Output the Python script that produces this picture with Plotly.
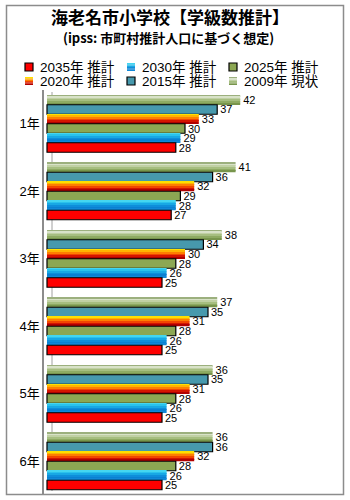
import plotly.graph_objects as go

# ---- data -------------------------------------------------------------
grades = ["1年", "2年", "3年", "4年", "5年", "6年"]

v2009 = [42, 41, 38, 37, 36, 36]
v2015 = [37, 36, 34, 35, 35, 36]
v2020 = [33, 32, 30, 31, 31, 32]
v2025 = [30, 29, 28, 28, 28, 28]
v2030 = [29, 28, 26, 26, 26, 26]
v2035 = [28, 27, 25, 25, 25, 25]

names = {
    "2009": "2009年 現状",
    "2015": "2015年 推計",
    "2020": "2020年 推計",
    "2025": "2025年 推計",
    "2030": "2030年 推計",
    "2035": "2035年 推計",
}

# ---- styles (bands listed top -> bottom; single colour = outlined bar) --
styles = {
    "2009": {"bands": ["#9CB07E", "#D8E2C8", "#C0D0A4", "#A6BE80", "#8EAA62", "#78954C"], "outline": False},
    "2015": {"bands": ["#4799AD"], "outline": True},
    "2020": {"bands": ["#FFE000", "#FFB400", "#FF7E00", "#F24600", "#D41400", "#B00000"], "outline": False},
    "2025": {"bands": ["#8CA753"], "outline": True},
    "2030": {"bands": ["#44D6F0", "#2AC2EC", "#18A8E4", "#0E8EDA", "#0A80D2", "#1088D8"], "outline": False},
    "2035": {"bands": ["#FF0000"], "outline": True},
}

# slot order inside each group, top to bottom
slot_order = ["2009", "2015", "2020", "2025", "2030", "2035"]
values = {"2009": v2009, "2015": v2015, "2020": v2020,
          "2025": v2025, "2030": v2030, "2035": v2035}

# ---- geometry ------------------------------------------------------------
W, H = 350, 500
L, T = 44, 90            # plot area left / top (px)
PW, PH = 279, 405        # plot area width / height (px)
PX_PER_UNIT = 4.6
X0 = -3 / PX_PER_UNIT
X1 = X0 + PW / PX_PER_UNIT

GROUP = 0.845
SLOT = GROUP / 6

FONT = "Liberation Sans, Arial, Noto Sans CJK JP, sans-serif"


def px_x(p):
    return (p - L) / PW


def px_y(p):
    return (T + PH - p) / PH


fig = go.Figure()

for k, key in enumerate(slot_order):
    st = styles[key]
    bands = st["bands"]
    n = len(bands)
    top = -GROUP / 2 + k * SLOT
    for j, col in enumerate(bands):
        fig.add_trace(go.Bar(
            y=grades, x=values[key], orientation="h",
            width=SLOT / n, offset=top + j * SLOT / n,
            marker=dict(color=col,
                        line=dict(color="black", width=1.2 if st["outline"] else 0)),
            showlegend=False, hoverinfo="skip", name=names[key],
        ))

# value labels at the end of each bar
for k, key in enumerate(slot_order):
    top = -GROUP / 2 + k * SLOT
    fig.add_trace(go.Bar(
        y=grades, x=values[key], orientation="h",
        width=SLOT, offset=top,
        marker=dict(color="rgba(0,0,0,0)", line=dict(width=0)),
        text=[str(v) for v in values[key]], textposition="outside",
        textfont=dict(family=FONT, size=11, color="black"),
        constraintext="none", cliponaxis=False,
        showlegend=False, hoverinfo="skip", name=names[key],
    ))

shapes = []
# outer frame
shapes.append(dict(type="rect", xref="paper", yref="paper",
                   x0=px_x(6.5), x1=px_x(343.5), y0=px_y(494.5), y1=px_y(5.5),
                   line=dict(color="#8C8C8C", width=1.5), fillcolor="rgba(0,0,0,0)"))
# back wall edge of the category axis
shapes.append(dict(type="line", xref="paper", yref="paper",
                   x0=px_x(52), x1=px_x(52), y0=px_y(491), y1=px_y(92),
                   line=dict(color="#A0A0A0", width=1), layer="below"))

annotations = [
    dict(text="<b>海老名市小学校【学級数推計】</b>", x=px_x(170), y=px_y(16),
         xref="paper", yref="paper", showarrow=False, xanchor="center", yanchor="middle",
         font=dict(family="Noto Sans CJK JP", size=17, color="black")),
    dict(text="<b>(ipss: 市町村推計人口に基づく想定)</b>", x=px_x(168), y=px_y(37),
         xref="paper", yref="paper", showarrow=False, xanchor="center", yanchor="middle",
         font=dict(family="Noto Sans CJK JP", size=13, color="black")),
]

# legend: two rows of three entries
legend_rows = [["2035", "2030", "2025"], ["2020", "2015", "2009"]]
col_x = [25, 127, 229]
row_y = [63, 77]
SW = 8
for r, row in enumerate(legend_rows):
    for c, key in enumerate(row):
        st = styles[key]
        bands = st["bands"]
        n = len(bands)
        x0, y0 = col_x[c], row_y[r]
        for j, col in enumerate(bands):
            shapes.append(dict(type="rect", xref="paper", yref="paper",
                               x0=px_x(x0), x1=px_x(x0 + SW),
                               y0=px_y(y0 + (j + 1) * SW / n), y1=px_y(y0 + j * SW / n),
                               line=dict(width=0), fillcolor=col))
        if st["outline"]:
            shapes.append(dict(type="rect", xref="paper", yref="paper",
                               x0=px_x(x0), x1=px_x(x0 + SW),
                               y0=px_y(y0 + SW), y1=px_y(y0),
                               line=dict(color="black", width=1.2), fillcolor="rgba(0,0,0,0)"))
        annotations.append(dict(text=names[key], x=px_x(x0 + 13), y=px_y(y0 + SW / 2 + 0.5),
                                xref="paper", yref="paper", showarrow=False,
                                xanchor="left", yanchor="middle",
                                font=dict(family=FONT, size=13.5, color="black")))

fig.update_layout(
    width=W, height=H,
    margin=dict(l=L, r=W - L - PW, t=T, b=H - T - PH, pad=0),
    paper_bgcolor="white", plot_bgcolor="white",
    barmode="overlay", showlegend=False,
    shapes=shapes, annotations=annotations,
    xaxis=dict(range=[X0, X1], showgrid=False, zeroline=False,
               showticklabels=False, showline=False, ticks=""),
    yaxis=dict(type="category", categoryorder="array", categoryarray=grades,
               range=[5.5, -0.5], showgrid=False, zeroline=False,
               showline=True, linecolor="#8C8C8C", linewidth=1.5, ticks="",
               tickfont=dict(family=FONT, size=13, color="black")),
)

fig.write_html("out.html")
